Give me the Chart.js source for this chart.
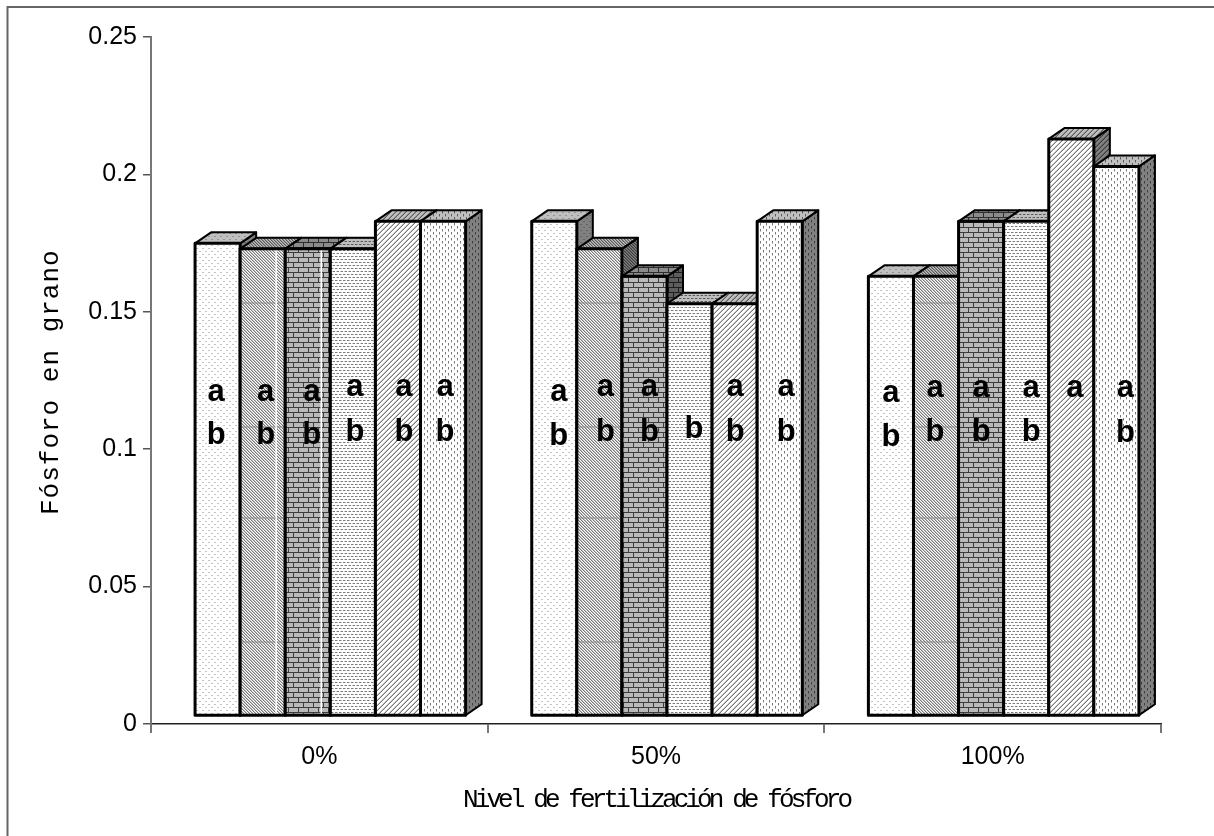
<!DOCTYPE html>
<html>
<head>
<meta charset="utf-8">
<title>Fósforo en grano</title>
<script src="https://cdn.jsdelivr.net/npm/chart.js@4"></script>
<style>
  html, body { margin: 0; padding: 0; background: #fff; }
  canvas { display: block; }
</style>
</head>
<body>
<canvas id="chart" width="1214" height="836"></canvas>
<script>
// ===== Data =====
const categories = ['0%', '50%', '100%'];
const yTickLabels = ['0', '0.05', '0.1', '0.15', '0.2', '0.25'];
const serie1 = [0.172, 0.18, 0.16];
const serie2 = [0.17, 0.17, 0.16];
const serie3 = [0.17, 0.16, 0.18];
const serie4 = [0.17, 0.15, 0.18];
const serie5 = [0.18, 0.15, 0.21];
const serie6 = [0.18, 0.18, 0.2];
const letras1 = ['ab', 'ab', 'ab'];
const letras2 = ['ab', 'ab', 'ab'];
const letras3 = ['ab', 'ab', 'ab'];
const letras4 = ['ab', 'b', 'ab'];
const letras5 = ['ab', 'ab', 'a'];
const letras6 = ['ab', 'ab', 'ab'];
const xTitle = 'Nivel de fertilización de fósforo';
const yTitle = 'Fósforo en grano';

// ===== Fill patterns (one tile per series) =====
const tiles = [
  ['......', '..++..', '......', '......', '+....+', '......'],
  ['#+.', '.#+', '+.#'],
  ['@@@@@@@@@@', '--@-------', '--@-------', '--@-------', '--@-------', '@@@@@@@@@@', '-------@--', '-------@--', '-------@--', '-------@--'],
  ['##+.##+.', '........', '........', '.+##.+##', '........', '........'],
  ['...+#', '..+#.', '.+#..', '+#...', '#...+'],
  ['..#...', '..#...', '..+...', '.....#', '.....#', '.....+']
];
const shades = { '.': 255, '-': 185, '+': 195, '#': 120, '@': 60 };

function makePattern(tile, mult) {
  const c = document.createElement('canvas');
  c.width = tile[0].length;
  c.height = tile.length;
  const g = c.getContext('2d');
  tile.forEach((row, y) => {
    [...row].forEach((ch, x) => {
      const v = Math.round(shades[ch] * mult);
      g.fillStyle = `rgb(${v},${v},${v})`;
      g.fillRect(x, y, 1, 1);
    });
  });
  return g.createPattern(c, 'repeat');
}

const ctx = document.getElementById('chart').getContext('2d');
const frontFill = tiles.map(t => makePattern(t, 1));
const topFill = tiles.map(t => makePattern(t, 0.75));
const sideFill = tiles.map(t => makePattern(t, 0.5));

// ===== Fake 3D =====
const shiftX = 11, shiftY = -8;   // front faces sit off the axis
const depthX = 16, depthY = -11;
const marcas = [303, 427, 518, 642]; // faint lines seen on serie 2
const outline = 3;

function drawFaces(c, bar, i) {
  const r = bar.x + bar.width / 2, l = bar.x - bar.width / 2;
  c.beginPath();
  c.moveTo(r, bar.y);
  c.lineTo(r + depthX, bar.y + depthY);
  c.lineTo(r + depthX, bar.base + depthY);
  c.lineTo(r, bar.base);
  c.closePath();
  c.fillStyle = sideFill[i];
  c.fill();
  c.stroke();
  c.beginPath();
  c.moveTo(l, bar.y);
  c.lineTo(l + depthX, bar.y + depthY);
  c.lineTo(r + depthX, bar.y + depthY);
  c.lineTo(r, bar.y);
  c.closePath();
  c.fillStyle = topFill[i];
  c.fill();
  c.stroke();
}

const box3d = {
  id: 'box3d',
  // bars have to be painted left to right, Chart.js goes the other way
  beforeDatasetsDraw(chart) {
    const c = chart.ctx;
    chart.data.datasets.forEach((ds, i) => {
      const meta = chart.getDatasetMeta(i);
      c.save();
      c.translate(shiftX, shiftY);
      c.strokeStyle = '#000';
      c.lineWidth = 2;
      c.lineJoin = 'round';
      meta.data.forEach(bar => drawFaces(c, bar, i));
      meta.controller.draw();
      meta.data.forEach((bar, g) => {
        const l = bar.x - bar.width / 2;
        if (i === 1) {
          c.strokeStyle = '#8a8a8a';
          c.lineWidth = 1;
          marcas.forEach(py => {
            if (py - shiftY > bar.y) {
              c.beginPath();
              c.moveTo(l, py - shiftY);
              c.lineTo(l + bar.width, py - shiftY);
              c.stroke();
            }
          });
        }
        // pale vertical seam on the first group
        if (g === 0 && (i === 1 || i === 2)) {
          c.strokeStyle = '#fff';
          c.lineWidth = 1.5;
          c.beginPath();
          c.moveTo(l + 36, bar.y);
          c.lineTo(l + 36, bar.base);
          c.stroke();
        }
        c.strokeStyle = '#000';
        c.lineWidth = outline;
        c.strokeRect(l, bar.y, bar.width, bar.base - bar.y);
      });
      c.restore();
    });
    return false;
  }
};

// ===== Significance letters =====
const letras = [letras1, letras2, letras3, letras4, letras5, letras6];
const letraDx = [
  [-1.5, 4.5, 0],
  [3, 6, -1],
  [4, 5, 0],
  [2, 4.5, 5],
  [6, 0.5, 3.5],
  [2, 6.5, 9]
];
const letraAy = [
  [393, 393, 394],
  [393, 388, 389],
  [393, 388, 389],
  [388, 388, 389],
  [388, 388, 389],
  [388, 388, 389]
];
const letraBy = [
  [433, 434, 435],
  [433, 430, 430],
  [433, 430, 430],
  [430, 427, 430],
  [430, 430, 430],
  [430, 430, 431]
];

const extras = {
  id: 'extras',
  beforeDraw(chart) {
    // frame: only the top and left edges are in the picture
    const c = chart.ctx;
    c.save();
    c.strokeStyle = '#666';
    c.lineWidth = 2;
    c.beginPath();
    c.moveTo(7.5, 836);
    c.lineTo(7.5, 7);
    c.lineTo(1214, 7);
    c.stroke();
    c.restore();
  },
  afterDraw(chart) {
    const c = chart.ctx;
    c.save();
    c.fillStyle = '#000';
    c.font = 'bold 31px "Liberation Sans"';
    c.textAlign = 'center';
    c.textBaseline = 'alphabetic';
    letras.forEach((fila, s) => {
      const bars = chart.getDatasetMeta(s).data;
      fila.forEach((txt, g) => {
        const x = bars[g].x + shiftX + letraDx[s][g];
        if (txt.includes('a')) c.fillText('a', x, letraAy[s][g] + 8);
        if (txt.includes('b')) c.fillText('b', x, letraBy[s][g] + 11);
      });
    });

    // axis titles, squeezed monospace like the source
    c.font = '26px "Liberation Mono"';
    c.textAlign = 'left';
    c.letterSpacing = '-3.9px';
    c.fillText(xTitle, 463, 807);
    c.letterSpacing = '1px';
    c.translate(58, 515);
    c.rotate(-Math.PI / 2);
    c.fillText(yTitle, 0, 0);
    c.restore();
  }
};

// ===== Chart =====
const series = [serie1, serie2, serie3, serie4, serie5, serie6];
new Chart(ctx, {
  type: 'bar',
  data: {
    labels: categories,
    datasets: series.map((values, i) => ({
      label: 'Serie ' + (i + 1),
      data: values,
      backgroundColor: frontFill[i],
      borderWidth: 0,
      barPercentage: 1,
      categoryPercentage: 0.8036
    }))
  },
  options: {
    responsive: false,
    animation: false,
    devicePixelRatio: 1,
    layout: { padding: { top: 37, right: 53, left: 0, bottom: 0 } },
    plugins: {
      legend: { display: false },
      tooltip: { enabled: false }
    },
    scales: {
      x: {
        afterFit: s => { s.height = 112; },
        grid: { drawOnChartArea: false, color: '#777', lineWidth: 2, tickLength: 9 },
        border: { color: '#222', width: 1.5 },
        ticks: {
          color: '#000',
          padding: 9,
          maxRotation: 0,
          font: { family: 'Liberation Sans', size: 25 }
        }
      },
      y: {
        min: 0,
        max: 0.25,
        afterFit: s => { s.width = 151; },
        grid: { drawOnChartArea: false, color: '#555', lineWidth: 1.5, tickLength: 8 },
        border: { color: '#777', width: 2 },
        ticks: {
          stepSize: 0.05,
          color: '#000',
          padding: 6,
          font: { family: 'Liberation Sans', size: 25 },
          callback: (v, idx) => yTickLabels[idx]
        }
      }
    }
  },
  plugins: [extras, box3d]
});
</script>
</body>
</html>
